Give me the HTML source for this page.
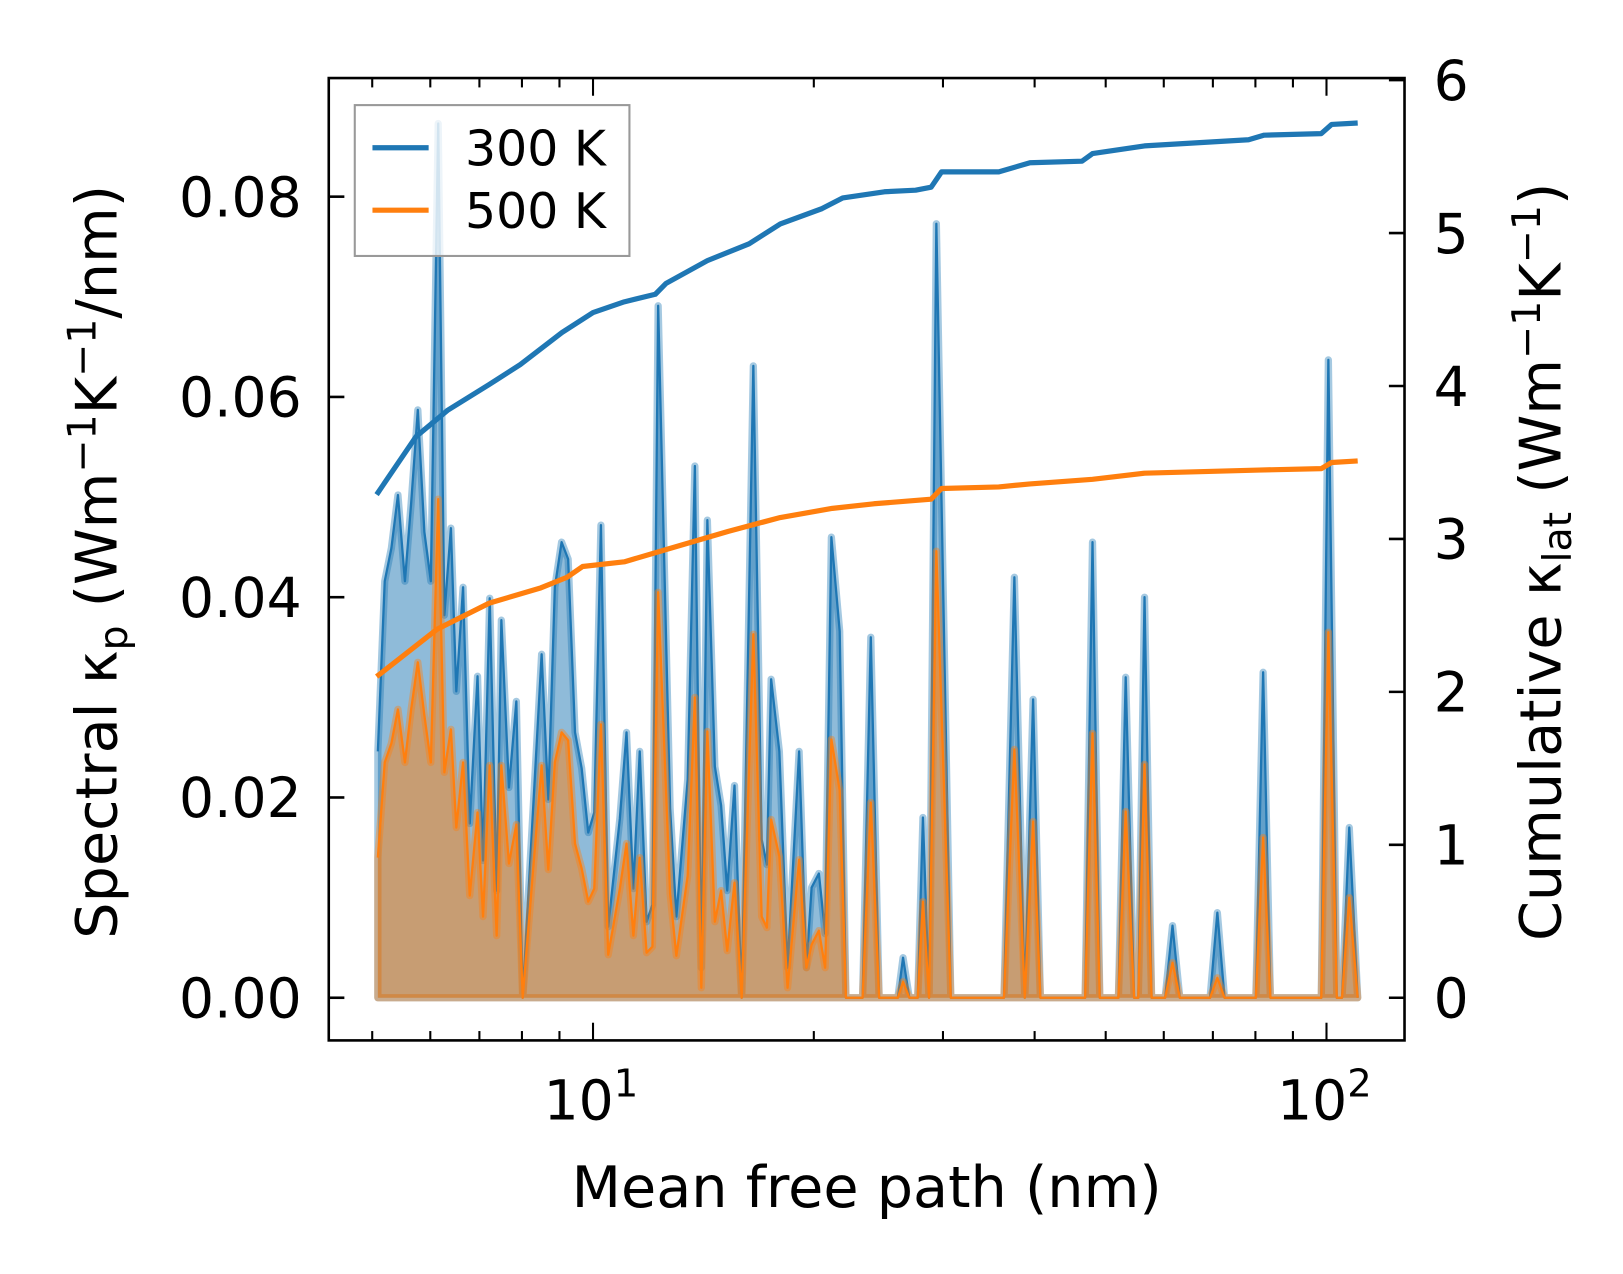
<!DOCTYPE html>
<html><head><meta charset="utf-8"><style>
html,body{margin:0;padding:0;background:#fff}
svg text{font-family:"DejaVu Sans","Liberation Sans",sans-serif;fill:#000}
</style></head><body>
<svg id="chart" width="1623" height="1274" viewBox="0 0 1560 1224.5" xmlns="http://www.w3.org/2000/svg" style="position:absolute;left:0;top:0">
<rect width="1560" height="1225" fill="#fff"/>
<defs><clipPath id="plotclip"><rect x="316" y="75" width="1034" height="925"/></clipPath></defs>
<g id="plot" clip-path="url(#plotclip)"></g>
<g id="axes"></g>
</svg>
<script>
// spectral data (mean free path in nm)
const mfp = [5.09,5.20,5.31,5.42,5.54,5.65,5.77,5.89,6.01,6.15,6.27,6.40,6.51,6.65,6.79,6.96,7.08,7.23,7.39,7.50,7.68,7.86,8.02,8.51,8.69,8.87,9.06,9.25,9.45,9.65,9.85,10.04,10.25,10.49,10.88,11.11,11.35,11.58,11.83,12.05,12.27,12.74,12.99,13.46,13.77,14.05,14.32,14.66,14.95,15.24,15.59,15.95,16.54,16.98,17.26,17.49,17.95,18.42,19.10,19.54,19.86,20.32,20.72,21.13,21.69,22.12,23.31,23.92,24.55,26.04,26.47,26.99,27.71,28.17,28.72,29.38,30.75,36.33,37.54,38.78,39.81,40.73,46.88,47.97,49.08,52.03,53.24,54.67,55.39,56.49,57.76,60.26,61.66,63.10,69.38,70.99,72.61,80.11,81.97,83.86,98.38,100.6,103.3,105.0,107.4,110.3];
const spec300 = [0.0246,0.0416,0.0449,0.0502,0.0416,0.0494,0.0587,0.0465,0.0416,0.0873,0.0382,0.0469,0.0306,0.0410,0.0174,0.0321,0.0137,0.0399,0.0107,0.0377,0.0210,0.0296,0,0.0343,0.0198,0.0410,0.0455,0.0438,0.0265,0.0229,0.0165,0.0185,0.0472,0.0071,0.0179,0.0265,0.0109,0.0246,0.0076,0.0093,0.0691,0.0189,0.0081,0.0218,0.0531,0.0030,0.0477,0.0231,0.0192,0.0107,0.0212,0,0.0631,0.0158,0.0133,0.0318,0.0246,0.0030,0.0246,0.0030,0.0110,0.0124,0.0064,0.0460,0.0366,0,0,0.0360,0,0,0.0040,0,0,0.0180,0,0.0773,0,0,0.0420,0,0.0298,0,0,0.0455,0,0,0.0320,0,0,0.0400,0,0,0.0072,0,0,0.0085,0,0,0.0325,0,0,0.0637,0,0,0.0170,0];
const spec500 = [0.0140,0.0235,0.0254,0.0288,0.0235,0.0288,0.0335,0.0282,0.0235,0.0498,0.0225,0.0268,0.0170,0.0235,0.0102,0.0185,0.0081,0.0232,0.0062,0.0232,0.0134,0.0173,0,0.0232,0.0128,0.0235,0.0265,0.0257,0.0154,0.0129,0.0096,0.0109,0.0273,0.0043,0.0109,0.0154,0.0062,0.0140,0.0045,0.0051,0.0405,0.0104,0.0042,0.0122,0.0300,0.0010,0.0266,0.0076,0.0107,0.0047,0.0115,0,0.0363,0.0081,0.0070,0.0178,0.0141,0.0010,0.0138,0.0030,0.0053,0.0067,0.0030,0.0258,0.0207,0,0,0.0195,0,0,0.0016,0,0,0.0096,0,0.0446,0,0,0.0248,0,0.0176,0,0,0.0264,0,0,0.0186,0,0,0.0233,0,0,0.0035,0,0,0.0020,0,0,0.0160,0,0,0.0365,0,0,0.0100,0];
// cumulative data
const cumX300 = [5.07,5.74,6.33,7.22,7.96,9.07,10,11.03,12.16,12.57,14.32,16.32,18.00,20.52,21.90,24.96,27.53,28.91,29.87,35.74,39.42,46.42,47.97,56.49,78.29,82.23,98.38,101.6,110.3];
const cum300 = [3.29,3.67,3.84,4.01,4.14,4.35,4.48,4.55,4.60,4.67,4.82,4.93,5.06,5.16,5.23,5.27,5.28,5.30,5.40,5.40,5.46,5.47,5.52,5.57,5.61,5.64,5.65,5.71,5.72];
const cumX500 = [5.07,6.13,7.22,8.49,9.22,9.68,11.03,12.57,15.29,18.00,21.20,24.15,28.91,29.87,35.74,39.42,47.97,56.49,80.89,98.38,101.6,110.3];
const cum500 = [2.10,2.41,2.58,2.68,2.75,2.82,2.85,2.93,3.05,3.14,3.20,3.23,3.26,3.33,3.34,3.36,3.39,3.43,3.45,3.46,3.50,3.51];
const leftTicks = [0,0.02,0.04,0.06,0.08];
const leftTickLabels = ["0.00","0.02","0.04","0.06","0.08"];
const rightTicks = [0,1,2,3,4,5,6];
const xMajor = [10,100];

const NS="http://www.w3.org/2000/svg";
const X0=316,X1=1350,Y0=75,Y1=1000;
function xs(v){return 570+(Math.log10(v)-1)*705;}
function yl(v){return 959-v*9625;}
function yr(v){return 959-v*147;}
function mk(tag,attrs,parent){const e=document.createElementNS(NS,tag);for(const k in attrs)e.setAttribute(k,attrs[k]);parent.appendChild(e);return e;}
const plot=document.getElementById('plot'), axes=document.getElementById('axes');

function spectral(vals,color,name){
  const pts=mfp.map((m,i)=>xs(m).toFixed(1)+','+yl(vals[i]).toFixed(1));
  const area='M'+xs(mfp[0]).toFixed(1)+','+yl(0)+' L'+pts.join(' L')+' L'+xs(mfp[mfp.length-1]).toFixed(1)+','+yl(0)+' Z';
  const f=mk('path',{d:area,fill:color,'fill-opacity':0.5,stroke:'none'},plot);
  
  
  const t=mk('path',{d:area,fill:'none',stroke:color,'stroke-opacity':0.4,'stroke-width':7,'stroke-linejoin':'round'},plot);
  
  
  const l=mk('polyline',{points:pts.join(' '),fill:'none',stroke:color,'stroke-width':2.2,'stroke-linejoin':'round'},plot);
  
  
}
spectral(spec300,'#1f77b4','spectral-300k');
spectral(spec500,'#ff7f0e','spectral-500k');

function cumline(xv,yv,color,name){
  const pts=xv.map((m,i)=>xs(m).toFixed(1)+','+yr(yv[i]).toFixed(1)).join(' ');
  const l=mk('polyline',{points:pts,fill:'none',stroke:color,'stroke-width':5,'stroke-linejoin':'round'},plot);
  
  
}
cumline(cumX300,cum300,'#1f77b4','cumulative-300k');
cumline(cumX500,cum500,'#ff7f0e','cumulative-500k');

const fr=mk('rect',{x:X0,y:Y0,width:X1-X0,height:Y1-Y0,fill:'none',stroke:'#000','stroke-width':2.5},axes);



leftTicks.forEach((v,i)=>{
  const y=yl(v);
  mk('line',{x1:X0,x2:X0+15,y1:y,y2:y,stroke:'#000','stroke-width':2.5},axes);
  const t=mk('text',{x:290,y:y+19,'font-size':53,'text-anchor':'end'},axes);
  t.textContent=leftTickLabels[i];
  
  
});
rightTicks.forEach(v=>{
  const y=yr(v);
  mk('line',{x1:X1-15,x2:X1,y1:y,y2:y,stroke:'#000','stroke-width':2.5},axes);
  const t=mk('text',{x:1378,y:y+19,'font-size':53},axes);
  t.textContent=String(v);
  
  
});
for(let d=1;d<=100;d*=10){
  for(let k=1;k<10;k++){
    const v=k*d; if(v<4.5||v>120) continue;
    const x=xs(v); if(x<X0||x>X1) continue;
    const len=(k===1)?17:9;
    mk('line',{x1:x,x2:x,y1:Y1,y2:Y1-len,stroke:'#000','stroke-width':2},axes);
    mk('line',{x1:x,x2:x,y1:Y0,y2:Y0+len,stroke:'#000','stroke-width':2},axes);
  }
}
xMajor.forEach(v=>{
  const x=xs(v);
  const t=mk('text',{x:x-2,y:1076,'font-size':53,'text-anchor':'middle'},axes);
  
  
  t.textContent='10';
  const s=mk('tspan',{dy:-22,'font-size':37},t);
  s.textContent=String(Math.round(Math.log10(v)));
});
</script>
<svg style="position:absolute;left:0;top:0" width="1623" height="1274" viewBox="0 0 1560 1224.5" xmlns="http://www.w3.org/2000/svg">
<text x="833" y="1160" font-size="55" text-anchor="middle">Mean free path (nm)</text>
<text transform="translate(112,540) rotate(-90)" font-size="55" text-anchor="middle">Spectral κ<tspan font-size="38" dy="10">p</tspan><tspan dy="-10"> (Wm</tspan><tspan font-size="38" dy="-20">−1</tspan><tspan dy="20">K</tspan><tspan font-size="38" dy="-20">−1</tspan><tspan dy="20">/nm)</tspan></text>
<text transform="translate(1500,540) rotate(-90)" font-size="55" text-anchor="middle">Cumulative κ<tspan font-size="38" dy="10">lat</tspan><tspan dy="-10"> (Wm</tspan><tspan font-size="38" dy="-20">−1</tspan><tspan dy="20">K</tspan><tspan font-size="38" dy="-20">−1</tspan><tspan dy="20">)</tspan></text>
<g>
<rect x="341" y="101" width="264" height="145" fill="#fff" fill-opacity="0.8" stroke="#999" stroke-width="2"/>
<line x1="358" x2="412" y1="142" y2="142" stroke="#1f77b4" stroke-width="5"/>
<text x="447" y="159" font-size="47">300 K</text>
<line x1="358" x2="412" y1="202" y2="202" stroke="#ff7f0e" stroke-width="5"/>
<text x="447" y="219" font-size="47">500 K</text>
</g>
</svg>
</body></html>
